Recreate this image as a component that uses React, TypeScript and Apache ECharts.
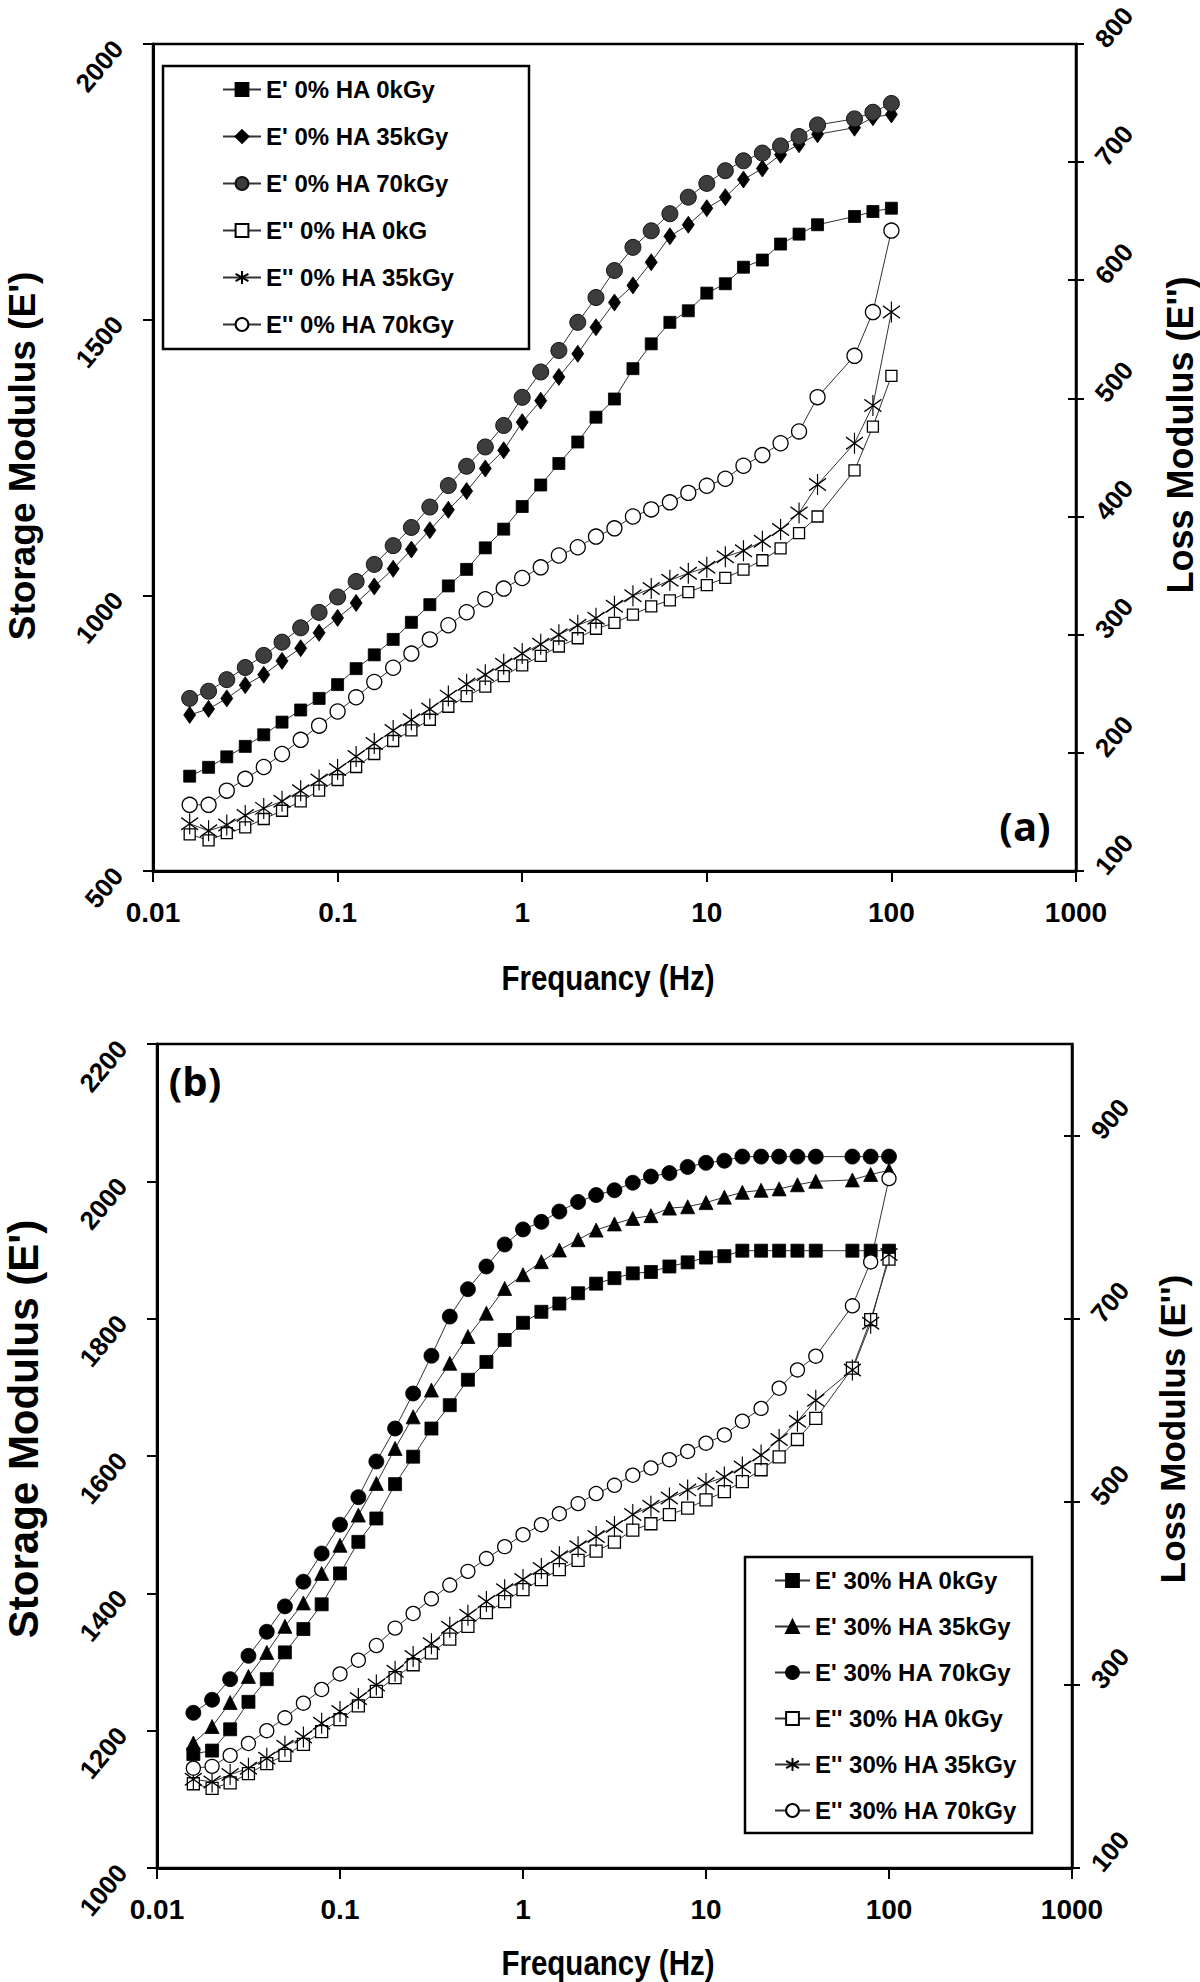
import React, { useEffect, useRef } from "react";
import * as echarts from "echarts";

const SANS = "'Liberation Sans', Arial, sans-serif";
const PANEL = "'Open Sans', 'Noto Sans', sans-serif";

// Frequencies (Hz)
const frequencies = [
  0.0158, 0.02, 0.0251, 0.0316, 0.0398, 0.05, 0.0631, 0.0794, 0.1, 0.126,
  0.158, 0.2, 0.251, 0.316, 0.398, 0.5, 0.631, 0.794, 1, 1.26,
  1.58, 2, 2.51, 3.16, 3.98, 5, 6.31, 7.94, 10, 12.6,
  15.8, 20, 25.1, 31.6, 39.8, 63.1, 79.4, 100,
];
const xTickLabels = ["0.01", "0.1", "1", "10", "100", "1000"];

// Panel (a): 0% HA
const aStorage0 = [672, 688, 707, 726, 747, 770, 792, 813, 838, 867, 892, 920, 951, 983, 1017, 1047, 1086, 1120, 1161, 1200, 1239, 1278, 1323, 1356, 1411, 1456, 1495, 1516, 1548, 1565, 1595, 1608, 1637, 1655, 1672, 1687, 1696, 1702];
const aStorage35 = [783, 794, 813, 837, 856, 881, 904, 932, 959, 986, 1016, 1048, 1083, 1118, 1155, 1189, 1230, 1263, 1314, 1353, 1396, 1438, 1486, 1531, 1562, 1604, 1651, 1672, 1702, 1722, 1754, 1774, 1799, 1818, 1836, 1848, 1867, 1872];
const aStorage70 = [813, 826, 847, 869, 891, 915, 941, 969, 997, 1025, 1056, 1090, 1123, 1160, 1199, 1234, 1269, 1308, 1359, 1405, 1444, 1495, 1540, 1589, 1631, 1661, 1692, 1722, 1747, 1770, 1788, 1802, 1815, 1832, 1853, 1864, 1876, 1892];
const aLoss0 = [131, 126, 132, 137, 144, 151, 159, 168, 177, 188, 199, 210, 219, 228, 239, 248, 256, 265, 274, 282, 290, 297, 305, 310, 317, 324, 329, 336, 342, 348, 355, 363, 373, 386, 400, 439, 476, 519];
const aLoss35 = [140, 134, 139, 147, 153, 159, 168, 177, 186, 197, 208, 219, 228, 237, 248, 258, 266, 275, 284, 292, 300, 308, 314, 324, 333, 339, 346, 352, 357, 366, 371, 379, 389, 403, 427, 462, 494, 573];
const aLoss70 = [156, 156, 168, 178, 188, 199, 211, 223, 235, 247, 260, 272, 284, 296, 308, 319, 330, 339, 348, 357, 367, 374, 383, 390, 400, 406, 412, 420, 426, 432, 443, 452, 462, 472, 501, 536, 573, 642];

// Panel (b): 30% HA
const bStorage0 = [1166, 1171, 1202, 1242, 1275, 1314, 1348, 1384, 1429, 1475, 1509, 1559, 1599, 1640, 1674, 1711, 1737, 1769, 1794, 1810, 1822, 1837, 1851, 1859, 1866, 1868, 1876, 1882, 1889, 1891, 1899, 1899, 1899, 1899, 1899, 1899, 1899, 1899];
const bStorage35 = [1182, 1206, 1241, 1279, 1314, 1352, 1386, 1429, 1470, 1514, 1560, 1611, 1657, 1696, 1735, 1774, 1808, 1844, 1864, 1883, 1900, 1915, 1929, 1938, 1946, 1950, 1961, 1963, 1969, 1977, 1984, 1987, 1989, 1995, 2000, 2002, 2010, 2016];
const bStorage70 = [1226, 1245, 1275, 1309, 1344, 1381, 1417, 1458, 1500, 1540, 1592, 1640, 1691, 1746, 1803, 1843, 1876, 1908, 1930, 1941, 1956, 1970, 1980, 1987, 1998, 2007, 2012, 2021, 2027, 2030, 2036, 2036, 2036, 2036, 2036, 2036, 2036, 2036];
const bLoss0 = [192, 187, 193, 203, 214, 223, 235, 249, 262, 277, 293, 308, 322, 335, 350, 364, 379, 391, 404, 415, 426, 436, 446, 456, 469, 476, 486, 493, 502, 511, 522, 535, 549, 568, 591, 646, 699, 765];
const bLoss35 = [197, 194, 202, 209, 220, 233, 243, 258, 271, 285, 300, 315, 331, 345, 363, 376, 391, 404, 415, 427, 440, 451, 462, 473, 486, 495, 504, 513, 520, 527, 538, 551, 568, 588, 611, 644, 695, 770];
const bLoss70 = [209, 211, 223, 236, 250, 264, 280, 295, 312, 327, 343, 362, 378, 394, 409, 424, 438, 451, 464, 475, 487, 498, 509, 518, 529, 537, 546, 555, 564, 573, 588, 602, 624, 644, 659, 714, 762, 853];

// Axis tick values
const aLeftTicks = [500, 1000, 1500, 2000];
const aRightTicks = [100, 200, 300, 400, 500, 600, 700, 800];
const bLeftTicks = [1000, 1200, 1400, 1600, 1800, 2000, 2200];
const bRightTicks = [100, 300, 500, 700, 900];
const bRightMax = 1000;

const legendA = ["E' 0% HA 0kGy", "E' 0% HA 35kGy", "E' 0% HA 70kGy", "E'' 0% HA 0kG", "E'' 0% HA 35kGy", "E'' 0% HA 70kGy"];
const legendB = ["E' 30% HA 0kGy", "E' 30% HA 35kGy", "E' 30% HA 70kGy", "E'' 30% HA 0kGy", "E'' 30% HA 35kGy", "E'' 30% HA 70kGy"];

const ASTER = "path://M5,0L5,12M0,2.5L10,9.5M0,9.5L10,2.5";

const pairs = (vals: number[]) => frequencies.map((f, i) => [f, vals[i]]);

const lineStyle = { color: "#333", width: 1 };
const filled = (c: string) => ({ color: c, borderColor: "#000", borderWidth: 0.8 });
const hollow = { color: "#fff", borderColor: "#000", borderWidth: 1.3 };
const aster = { color: "#000", borderColor: "#000", borderWidth: 1.3 };

function xAxisCfg(gridIndex: number) {
  return {
    type: "log",
    gridIndex,
    logBase: 10,
    min: 0.01,
    max: 1000,
    splitNumber: 5,
    axisLine: { show: true, onZero: false, lineStyle: { color: "#000", width: 3 } },
    axisTick: { show: true, inside: false, length: 11, lineStyle: { color: "#000", width: 2 } },
    minorTick: { show: false },
    splitLine: { show: false },
    axisLabel: {
      margin: 27,
      color: "#000",
      fontFamily: SANS,
      fontWeight: "bold",
      fontSize: 28,
      formatter: (v: number) => xTickLabels[Math.round(Math.log10(v)) + 2],
    },
  };
}

function yAxisCfg(gridIndex: number, position: string, ticks: number[], opts: any = {}) {
  const interval = ticks[1] - ticks[0];
  const max = opts.max ?? ticks[ticks.length - 1];
  const inner = !!opts.inner;
  return {
    type: "value",
    gridIndex,
    position,
    min: ticks[0],
    max,
    interval,
    axisLine: { show: !inner, lineStyle: { color: "#000", width: position === "left" ? 3 : 2.5 } },
    axisTick: {
      show: true,
      inside: inner,
      length: position === "left" ? 10 : 8,
      lineStyle: { color: "#000", width: 2 },
    },
    splitLine: { show: false },
    axisLabel: {
      show: !inner,
      rotate: 50,
      margin: position === "left" ? 35 : 24,
      color: "#000",
      fontFamily: SANS,
      fontWeight: "bold",
      fontSize: 26,
      showMaxLabel: opts.max == null,
      formatter: (v: number) => String(v),
    },
  };
}

function mk(name: string, vals: number[], yAxisIndex: number, xAxisIndex: number, symbol: string, symbolSize: any, itemStyle: any) {
  return {
    type: "line",
    name,
    data: pairs(vals),
    xAxisIndex,
    yAxisIndex,
    symbol,
    symbolSize,
    itemStyle,
    lineStyle,
    emphasis: { disabled: true },
  };
}

function txt(text: string, x: number, y: number, size: number, family: string, rotation = 0, scaleX = 1) {
  return {
    type: "text",
    x,
    y,
    rotation,
    scaleX,
    z: 10,
    style: {
      text,
      fontSize: size,
      fontWeight: "bold",
      fontFamily: family,
      fill: "#000",
      align: "center",
      verticalAlign: "middle",
    },
  };
}

export default function App() {
  const ref = useRef<HTMLDivElement>(null);
  useEffect(() => {
    if (!ref.current) return;
    const chart = echarts.init(ref.current, null, { renderer: "svg" });
    const legendText = { fontFamily: SANS, fontWeight: "bold", fontSize: 24, color: "#000", lineHeight: 27 };
    chart.setOption({
      animation: false,
      backgroundColor: "#fff",
      textStyle: { fontFamily: SANS },
      grid: [
        { left: 153, top: 43, width: 923, height: 828, show: true, borderColor: "#000", borderWidth: 2.5, containLabel: false },
        { left: 157, top: 1044, width: 915, height: 824, show: true, borderColor: "#000", borderWidth: 2.5, containLabel: false },
      ],
      xAxis: [xAxisCfg(0), xAxisCfg(1)],
      yAxis: [
        yAxisCfg(0, "left", aLeftTicks),
        yAxisCfg(0, "right", aRightTicks),
        yAxisCfg(0, "right", aRightTicks, { inner: true }),
        yAxisCfg(1, "left", bLeftTicks),
        yAxisCfg(1, "right", bRightTicks, { max: bRightMax }),
        yAxisCfg(1, "right", bRightTicks, { max: bRightMax, inner: true }),
      ],
      legend: [
        {
          data: legendA,
          orient: "vertical",
          left: 222,
          top: 76,
          itemWidth: 38,
          itemHeight: 16,
          itemGap: 20,
          padding: 0,
          selectedMode: false,
          textStyle: legendText,
          z: 6,
        },
        {
          data: legendB,
          orient: "vertical",
          left: 774,
          top: 1567,
          itemWidth: 35,
          itemHeight: 16,
          itemGap: 19,
          padding: 0,
          selectedMode: false,
          textStyle: legendText,
          z: 6,
        },
      ],
      graphic: [
        { type: "rect", z: 3, shape: { x: 163, y: 66, width: 366, height: 283 }, style: { fill: "#fff", stroke: "#000", lineWidth: 2.5 } },
        { type: "rect", z: 3, shape: { x: 745, y: 1557, width: 287, height: 276 }, style: { fill: "#fff", stroke: "#000", lineWidth: 2.5 } },
        txt("Storage Modulus (E')", 22, 456, 37, SANS, Math.PI / 2),
        txt("Loss Modulus (E'')", 1180, 435, 36, SANS, Math.PI / 2),
        txt("Frequancy (Hz)", 608, 977, 36, SANS, 0, 0.82),
        txt("(a)", 1025, 825, 40, PANEL),
        txt("Storage Modulus (E')", 23, 1429, 42, SANS, Math.PI / 2),
        txt("Loss Modulus (E'')", 1172, 1429, 35, SANS, Math.PI / 2),
        txt("Frequancy (Hz)", 608, 1962, 36, SANS, 0, 0.82),
        txt("(b)", 195, 1080, 40, PANEL),
      ],
      series: [
        mk(legendA[0], aStorage0, 0, 0, "rect", 12, filled("#000")),
        mk(legendA[1], aStorage35, 0, 0, "diamond", [12, 17], filled("#000")),
        mk(legendA[2], aStorage70, 0, 0, "circle", 16, { color: "#3d3d3d", borderColor: "#111", borderWidth: 1 }),
        mk(legendA[3], aLoss0, 1, 0, "rect", 11, hollow),
        mk(legendA[4], aLoss35, 1, 0, ASTER, [17, 21], aster),
        mk(legendA[5], aLoss70, 1, 0, "circle", 15, hollow),
        mk(legendB[0], bStorage0, 3, 1, "rect", 13, filled("#000")),
        mk(legendB[1], bStorage35, 3, 1, "triangle", 14, filled("#000")),
        mk(legendB[2], bStorage70, 3, 1, "circle", 15, filled("#000")),
        mk(legendB[3], bLoss0, 4, 1, "rect", 12, hollow),
        mk(legendB[4], bLoss35, 4, 1, ASTER, [17, 21], aster),
        mk(legendB[5], bLoss70, 4, 1, "circle", 14, hollow),
      ],
    });
    return () => chart.dispose();
  }, []);
  return (
    <div
      ref={ref}
      style={{ position: "absolute", left: 0, top: 0, width: 1200, height: 1982, background: "#fff" }}
    />
  );
}
